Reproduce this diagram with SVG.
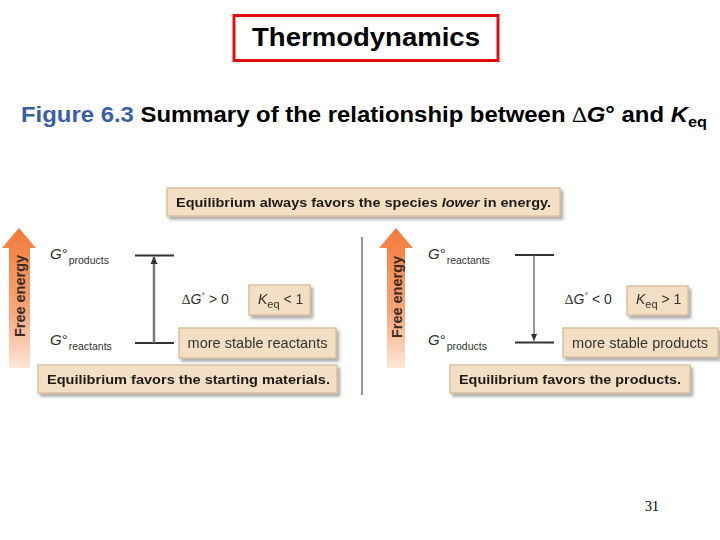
<svg xmlns="http://www.w3.org/2000/svg" width="720" height="540" viewBox="0 0 720 540">
<defs>
<style>
.box{fill:#f3dfc4;stroke:#dcc19f;stroke-width:1.5}
.bt{font-family:"Liberation Sans",Arial,sans-serif;font-weight:bold;font-size:13.5px;fill:#1e1a16}
.nt{font-family:"Liberation Sans",Arial,sans-serif;font-size:14px;fill:#333}
.lab{font-family:"Liberation Sans",Arial,sans-serif;font-size:15px;fill:#333}
.sub{font-size:10.5px}
.fe{font-family:"Liberation Sans",Arial,sans-serif;font-weight:bold;font-size:14.5px;fill:#3a2a22}
.lvl{stroke:#333;stroke-width:2}
</style>
<filter id="sh" x="-5%" y="-20%" width="112%" height="160%">
<feDropShadow dx="2.5" dy="3" stdDeviation="1.5" flood-color="#777" flood-opacity="0.6"/>
</filter>
<linearGradient id="og" x1="0" y1="0" x2="0" y2="1">
<stop offset="0" stop-color="#f27a3a"/>
<stop offset="0.6" stop-color="#f7a77c"/>
<stop offset="1" stop-color="#fde6d8"/>
</linearGradient>
</defs>
<rect width="720" height="540" fill="#ffffff"/>

<g id="title">
<rect x="234" y="15.5" width="264" height="45" fill="#ffffff" stroke="#e01010" stroke-width="3"/>
<text x="366" y="46" text-anchor="middle" font-family="'Liberation Sans',Arial,sans-serif" font-weight="bold" font-size="26" fill="#000" textLength="228" lengthAdjust="spacingAndGlyphs">Thermodynamics</text>
</g>

<g id="caption">
<text x="21" y="122" font-family="'Liberation Sans',Arial,sans-serif" font-weight="bold" font-size="22" fill="#000" textLength="686" lengthAdjust="spacingAndGlyphs"><tspan fill="#3b5ea6">Figure 6.3</tspan> Summary of the relationship between <tspan font-family="'Liberation Serif',serif" font-weight="normal">∆</tspan><tspan font-style="italic">G</tspan>° and <tspan font-style="italic">K</tspan><tspan font-size="15" dy="5">eq</tspan></text>
</g>

<g id="divider">
<line x1="362" y1="237" x2="362" y2="395" stroke="#555" stroke-width="1.2"/>
</g>

<g id="top-box" filter="url(#sh)">
<rect class="box" x="167" y="188" width="393" height="28"/>
<text class="bt" x="176" y="207" textLength="375" lengthAdjust="spacingAndGlyphs">Equilibrium always favors the species <tspan font-style="italic">lower</tspan> in energy.</text>
</g>

<!-- Left panel -->
<g id="left-energy-arrow">
<polygon points="19,228 36,248 30,248 30,368 9,368 9,248 2,248" fill="url(#og)"/>
<text class="fe" transform="translate(25,296) rotate(-90)" text-anchor="middle">Free energy</text>
</g>
<g id="left-g-products">
<text class="lab" x="50" y="259"><tspan font-style="italic">G</tspan>°<tspan class="sub" dy="5" dx="1">products</tspan></text>
</g>
<g id="left-g-reactants">
<text class="lab" x="50" y="345"><tspan font-style="italic">G</tspan>°<tspan class="sub" dy="5" dx="1">reactants</tspan></text>
</g>
<g id="left-levels">
<line class="lvl" x1="135" y1="255.5" x2="174" y2="255.5"/>
<line class="lvl" x1="135" y1="343" x2="174" y2="343"/>
</g>
<g id="left-dg">
<text class="nt" x="182" y="304"><tspan font-family="'Liberation Serif',serif">∆</tspan><tspan font-style="italic">G</tspan><tspan font-size="9" dy="-5">°</tspan><tspan dy="5"> &gt; 0</tspan></text>
</g>
<g id="left-keq" filter="url(#sh)">
<rect class="box" x="249" y="285" width="61" height="30"/>
<text class="nt" x="258" y="304" font-size="15"><tspan font-style="italic">K</tspan><tspan font-size="11" dy="4">eq</tspan><tspan dy="-4"> &lt; 1</tspan></text>
</g>
<g id="left-stable" filter="url(#sh)">
<rect class="box" x="179" y="328" width="157" height="30"/>
<text class="nt" x="257.5" y="348" text-anchor="middle" textLength="140" lengthAdjust="spacingAndGlyphs">more stable reactants</text>
</g>
<g id="left-bottom-box" filter="url(#sh)">
<rect class="box" x="38" y="365" width="299" height="28"/>
<text class="bt" x="47" y="384" textLength="283" lengthAdjust="spacingAndGlyphs">Equilibrium favors the starting materials.</text>
</g>

<!-- Right panel -->
<g id="right-energy-arrow">
<polygon points="396,228 413,248 405,248 405,368 387,368 387,248 379,248" fill="url(#og)"/>
<text class="fe" transform="translate(401.5,297) rotate(-90)" text-anchor="middle">Free energy</text>
</g>
<g id="right-g-reactants">
<text class="lab" x="428" y="259"><tspan font-style="italic">G</tspan>°<tspan class="sub" dy="5" dx="1">reactants</tspan></text>
</g>
<g id="right-g-products">
<text class="lab" x="428" y="345"><tspan font-style="italic">G</tspan>°<tspan class="sub" dy="5" dx="1">products</tspan></text>
</g>
<g id="right-levels">
<line class="lvl" x1="515" y1="255" x2="554" y2="255"/>
<line class="lvl" x1="515" y1="342.5" x2="554" y2="342.5"/>
</g>
<g id="right-dg">
<text class="nt" x="565" y="304"><tspan font-family="'Liberation Serif',serif">∆</tspan><tspan font-style="italic">G</tspan><tspan font-size="9" dy="-5">°</tspan><tspan dy="5"> &lt; 0</tspan></text>
</g>
<g id="right-keq" filter="url(#sh)">
<rect class="box" x="627" y="286" width="61" height="29"/>
<text class="nt" x="636" y="304" font-size="15"><tspan font-style="italic">K</tspan><tspan font-size="11" dy="4">eq</tspan><tspan dy="-4"> &gt; 1</tspan></text>
</g>
<g id="right-stable" filter="url(#sh)">
<rect class="box" x="563" y="328" width="155" height="29"/>
<text class="nt" x="640" y="348" text-anchor="middle" textLength="136" lengthAdjust="spacingAndGlyphs">more stable products</text>
</g>
<g id="right-bottom-box" filter="url(#sh)">
<rect class="box" x="450" y="365" width="240" height="28"/>
<text class="bt" x="459" y="384" textLength="222" lengthAdjust="spacingAndGlyphs">Equilibrium favors the products.</text>
</g>

<g id="connectors">
<line x1="154" y1="343" x2="154" y2="257" stroke="#777" stroke-width="2.5"/>
<path d="M150.5,264 L154,256.5 L157.5,264 Z" fill="#333"/>
<line x1="534" y1="255" x2="534" y2="335" stroke="#555" stroke-width="1.2"/>
<path d="M531,334 L534,341.5 L537,334 Z" fill="#333"/>
</g>

<g id="page-number">
<text x="645" y="511" font-family="'Liberation Serif','Times New Roman',serif" font-size="14" fill="#000">31</text>
</g>
</svg>
